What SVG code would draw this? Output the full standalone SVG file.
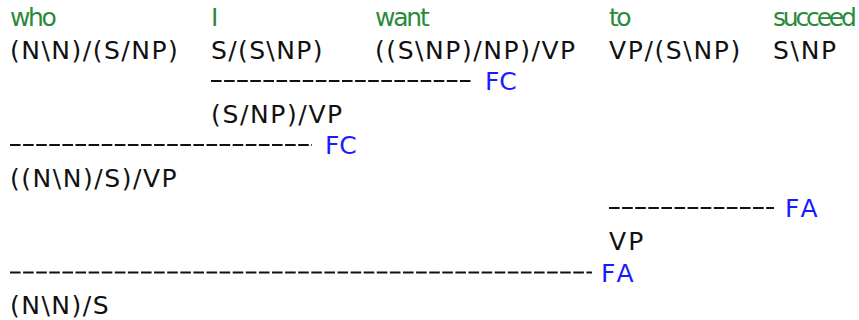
<svg xmlns="http://www.w3.org/2000/svg" width="859" height="320" viewBox="0 0 859 320">
  <style>
    text { font-family: "DejaVu Sans", sans-serif; font-size: 25px; }
    .word { fill: #2a8a3a; }
    .cat { fill: #111; }
    .rule { fill: #1a1aff; }
    .bar { stroke: #111; stroke-width: 2; stroke-dasharray: 10.6 2.5; fill: none; }
  </style>
  <rect width="859" height="320" fill="#fff"/>

  <!-- lexical entries -->
  <g id="who">
    <text class="word" x="10" y="26" textLength="46.8">who</text>
    <text class="cat" x="10" y="58.5" textLength="167.7">(N\N)/(S/NP)</text>
  </g>
  <g id="I">
    <text class="word" x="211" y="26">I</text>
    <text class="cat" x="211" y="58.5" textLength="111.4">S/(S\NP)</text>
  </g>
  <g id="want">
    <text class="word" x="375" y="26" textLength="54.7">want</text>
    <text class="cat" x="375" y="58.5" textLength="200.2">((S\NP)/NP)/VP</text>
  </g>
  <g id="to">
    <text class="word" x="609" y="26" textLength="22.6">to</text>
    <text class="cat" x="609" y="58.5" textLength="131.2">VP/(S\NP)</text>
  </g>
  <g id="succeed">
    <text class="word" x="773" y="26" textLength="83.9">succeed</text>
    <text class="cat" x="773" y="58.5" textLength="63.2">S\NP</text>
  </g>

  <!-- derived categories -->
  <g id="I-want">
    <text class="cat" x="211" y="122.5" textLength="131.2">(S/NP)/VP</text>
  </g>
  <g id="who-I-want">
    <text class="cat" x="10" y="186.5" textLength="166.6">((N\N)/S)/VP</text>
  </g>
  <g id="to-succeed">
    <text class="cat" x="609" y="250" textLength="34.3">VP</text>
  </g>
  <g id="root">
    <text class="cat" x="10" y="313.5" textLength="98.6">(N\N)/S</text>
  </g>

  <!-- combination bars with rule labels -->
  <g id="connectors">
    <line class="bar" x1="211" y1="81" x2="473" y2="81"/>
    <text class="rule" x="485" y="90" textLength="31.8">FC</text>
    <line class="bar" x1="10" y1="145" x2="312" y2="145"/>
    <text class="rule" x="325" y="154" textLength="31.8">FC</text>
    <line class="bar" x1="609" y1="208" x2="774" y2="208"/>
    <text class="rule" x="785" y="217" textLength="32.5">FA</text>
    <line class="bar" x1="10" y1="272.5" x2="592" y2="272.5"/>
    <text class="rule" x="601" y="281.5" textLength="32.5">FA</text>
  </g>
</svg>
